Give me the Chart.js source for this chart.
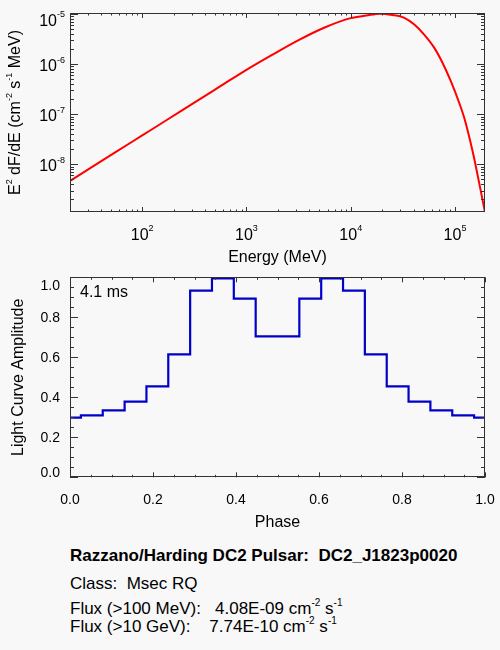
<!DOCTYPE html>
<html><head><meta charset="utf-8">
<script src="https://cdn.jsdelivr.net/npm/chart.js@4/dist/chart.umd.min.js"></script>
<style>
html,body{margin:0;padding:0;background:#f8f8f8;width:500px;height:650px;overflow:hidden;font-family:"Liberation Sans",Arial,sans-serif;}
#c1{position:absolute;left:0;top:0;}
#c2{position:absolute;left:0;top:265px;}
.t{position:absolute;left:70px;font-size:17px;line-height:17px;color:#000;white-space:pre;}
.t sup{font-size:10px;line-height:10px;vertical-align:baseline;position:relative;top:-8px;}
</style></head><body>
<canvas id="c1" width="500" height="265"></canvas>
<canvas id="c2" width="500" height="275"></canvas>
<div class="t" style="top:546.6px;font-weight:bold">Razzano/Harding DC2 Pulsar:  DC2_J1823p0020</div>
<div class="t" style="top:574.6px">Class:  Msec RQ</div>
<div class="t" style="top:599.9px">Flux (&gt;100 MeV):   4.08E-09 cm<sup>-2</sup> s<sup>-1</sup></div>
<div class="t" style="top:617.9px">Flux (&gt;10 GeV):    7.74E-10 cm<sup>-2</sup> s<sup>-1</sup></div>
<script>
// ---- data: spectrum ----
const energyMeV = [20.3, 32, 56, 100, 178, 316, 562, 1000, 1778, 3162, 5623, 10000, 14125, 19055, 25119, 32359, 40738, 50119, 63096, 75858, 91201, 109648, 123027, 147911, 169824, 195000];
const e2dFdE = [4.68e-9, 8.49e-9, 1.77e-8, 3.78e-8, 8.04e-8, 1.71e-7, 3.63e-7, 7.71e-7, 1.55e-6, 3.02e-6, 5.40e-6, 8.30e-6, 9.35e-6, 1.02e-5, 9.60e-6, 8.51e-6, 6.17e-6, 3.98e-6, 2.14e-6, 1.07e-6, 4.57e-7, 1.70e-7, 8.32e-8, 1.78e-8, 4.47e-9, 1.05e-9];
const energyLabelExps = [2, 3, 4, 5];
const fluxLabelExps = [-5, -6, -7, -8];
// ---- data: light curve ----
const phaseEdges = [0, 0.0263, 0.0789, 0.1316, 0.1842, 0.2368, 0.2895, 0.3421, 0.3947, 0.4474, 0.5526, 0.6053, 0.6579, 0.7105, 0.7632, 0.8158, 0.8684, 0.9211, 0.9737, 1.0];
const amplitude = [0.298, 0.31, 0.335, 0.378, 0.455, 0.615, 0.933, 0.995, 0.893, 0.705, 0.893, 0.995, 0.933, 0.615, 0.455, 0.378, 0.335, 0.31, 0.298];
const phaseTickLabels = ['0.0', '0.2', '0.4', '0.6', '0.8', '1.0'];
const ampTickLabels = ['0.0', '0.2', '0.4', '0.6', '0.8', '1.0'];
const periodText = '4.1 ms';

const FONT = '"Liberation Sans", Arial, sans-serif';
Chart.defaults.font.family = FONT;

function logTicks(min, max, majLen, minLen) {
  const out = [];
  for (let d = Math.floor(Math.log10(min)); d <= Math.ceil(Math.log10(max)); d++) {
    for (let m = 1; m <= 9; m++) {
      const v = m * Math.pow(10, d);
      if (v >= min * 0.999 && v <= max * 1.001) out.push({v, len: m === 1 ? majLen : minLen});
    }
  }
  return out;
}
function linTicks(min, max, step, majEvery, majLen, minLen) {
  const out = [];
  const n = Math.round((max - min) / step);
  for (let i = 0; i <= n; i++) out.push({v: min + i * step, len: i % majEvery === 0 ? majLen : minLen});
  return out;
}
function drawPieces(ctx, pieces, x, baseline, align) {
  let total = 0;
  pieces.forEach(p => { ctx.font = (p.sup ? '9px ' : '16px ') + FONT; p.w = ctx.measureText(p.t).width; total += p.w; });
  let cx = align === 'center' ? x - total / 2 : (align === 'right' ? x - total : x);
  pieces.forEach(p => {
    ctx.font = (p.sup ? '9px ' : '16px ') + FONT;
    ctx.textAlign = 'left'; ctx.textBaseline = 'alphabetic';
    ctx.fillText(p.t, cx, p.sup ? baseline - 8.5 : baseline);
    cx += p.w;
  });
}

const framePlugin = {
  id: 'frame',
  afterDatasetsDraw(chart, args, opts) {
    const ctx = chart.ctx, a = chart.chartArea;
    const xs = chart.scales.x, ys = chart.scales.y;
    ctx.save();
    ctx.strokeStyle = '#333'; ctx.lineWidth = 1;
    ctx.strokeRect(Math.round(a.left) + 0.5, Math.round(a.top) + 0.5, Math.round(a.right - a.left) - 1, Math.round(a.bottom - a.top) - 1);
    ctx.beginPath();
    opts.xTicks.forEach(t => {
      const p = Math.round(xs.getPixelForValue(t.v)) + 0.5;
      ctx.moveTo(p, a.bottom); ctx.lineTo(p, a.bottom - t.len);
      ctx.moveTo(p, a.top); ctx.lineTo(p, a.top + t.len);
    });
    opts.yTicks.forEach(t => {
      const p = Math.round(ys.getPixelForValue(t.v)) + 0.5;
      ctx.moveTo(a.left, p); ctx.lineTo(a.left + t.len, p);
      ctx.moveTo(a.right, p); ctx.lineTo(a.right - t.len, p);
    });
    ctx.stroke();
    ctx.fillStyle = '#000';
    opts.labels(chart, ctx, xs, ys, a);
    ctx.restore();
  }
};

// ---------- Chart 1: spectrum ----------
const xMin1 = 20.3, xMax1 = 1.94e5, yMin1 = 1.12e-9, yMax1 = 1.05e-5;
new Chart(document.getElementById('c1'), {
  type: 'line',
  data: { datasets: [{
    data: energyMeV.map((e, i) => ({x: e, y: e2dFdE[i]})),
    borderColor: '#ff0000', borderWidth: 2, pointRadius: 0,
    cubicInterpolationMode: 'monotone', fill: false
  }]},
  options: {
    responsive: false, animation: false, events: [],
    layout: { padding: { left: 70, right: 15, top: 13, bottom: 53 } },
    plugins: { legend: { display: false }, tooltip: { enabled: false },
      frame: {
        xTicks: logTicks(xMin1, xMax1, 5, 2.5),
        yTicks: logTicks(yMin1, yMax1, 8, 4),
        labels(chart, ctx, xs, ys, a) {
          energyLabelExps.forEach(d => {
            drawPieces(ctx, [{t: '10'}, {t: String(d), sup: true}], xs.getPixelForValue(Math.pow(10, d)), 239.5, 'center');
          });
          fluxLabelExps.forEach(d => {
            const py = ys.getPixelForValue(Math.pow(10, d));
            drawPieces(ctx, [{t: '10'}, {t: String(d), sup: true}], 65, Math.max(py + 7, a.top + 12.7), 'right');
          });
          ctx.font = '16px ' + FONT; ctx.textAlign = 'center'; ctx.textBaseline = 'alphabetic';
          ctx.fillText('Energy (MeV)', (a.left + a.right) / 2, 262);
          ctx.save();
          ctx.translate(20, (a.top + a.bottom) / 2);
          ctx.rotate(-Math.PI / 2);
          drawPieces(ctx, [{t: 'E'}, {t: '2', sup: true}, {t: ' dF/dE (cm'}, {t: '-2', sup: true}, {t: ' s'}, {t: '-1', sup: true}, {t: ' MeV)'}], 0, 0, 'center');
          ctx.restore();
        }
      }
    },
    scales: {
      x: { type: 'logarithmic', min: xMin1, max: xMax1, display: false },
      y: { type: 'logarithmic', min: yMin1, max: yMax1, display: false }
    }
  },
  plugins: [framePlugin]
});

// ---------- Chart 2: light curve ----------
new Chart(document.getElementById('c2'), {
  type: 'line',
  data: { datasets: [{
    data: phaseEdges.map((p, i) => ({x: p, y: amplitude[Math.min(i, amplitude.length - 1)]})),
    borderColor: '#0000c8', borderWidth: 2.2, pointRadius: 0, stepped: 'before', fill: false
  }]},
  options: {
    responsive: false, animation: false, events: [],
    layout: { padding: { left: 70, right: 15, top: 12.3, bottom: 62.7 } },
    plugins: { legend: { display: false }, tooltip: { enabled: false },
      frame: {
        xTicks: linTicks(0, 1, 0.05, 4, 5, 2.5),
        yTicks: linTicks(0, 1, 0.05, 4, 8, 4),
        labels(chart, ctx, xs, ys, a) {
          ctx.font = '14px ' + FONT; ctx.textBaseline = 'alphabetic';
          ctx.textAlign = 'center';
          phaseTickLabels.forEach(l => ctx.fillText(l, xs.getPixelForValue(parseFloat(l)), 239));
          ctx.textAlign = 'right';
          ampTickLabels.forEach(l => {
            const py = ys.getPixelForValue(parseFloat(l));
            const c = Math.min(Math.max(py, a.top + 7.7), a.bottom - 5.7);
            ctx.fillText(l, 60, c + 5);
          });
          ctx.font = '16px ' + FONT;
          ctx.textAlign = 'center';
          ctx.fillText('Phase', (a.left + a.right) / 2, 261.7);
          ctx.textAlign = 'left';
          ctx.fillText(periodText, 80, 32.3);
          ctx.save();
          ctx.translate(23, (a.top + a.bottom) / 2);
          ctx.rotate(-Math.PI / 2);
          ctx.textAlign = 'center';
          ctx.fillText('Light Curve Amplitude', 0, 0);
          ctx.restore();
        }
      }
    },
    scales: {
      x: { type: 'linear', min: 0, max: 1, display: false },
      y: { type: 'linear', min: 0, max: 1, display: false }
    }
  },
  plugins: [framePlugin]
});
</script>
</body></html>
